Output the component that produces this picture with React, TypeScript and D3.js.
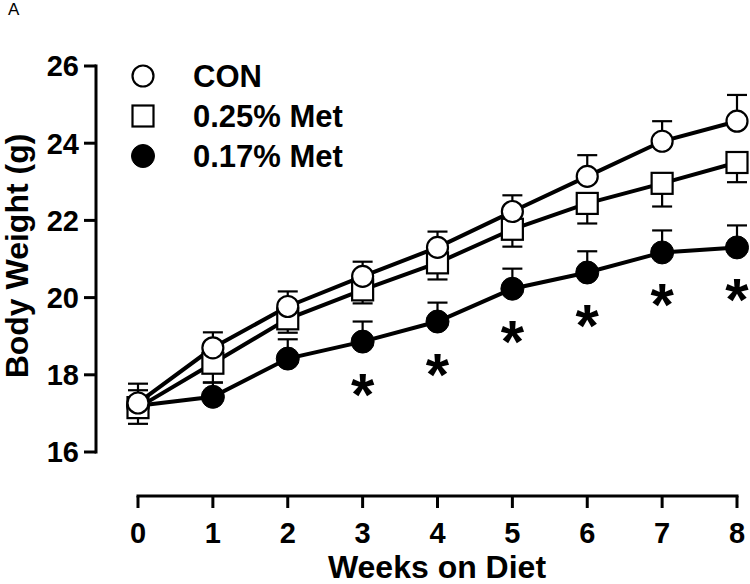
import React from "react";
import * as d3 from "d3";

const weeks = [0, 1, 2, 3, 4, 5, 6, 7, 8];
const conMean = [17.27, 18.7, 19.77, 20.55, 21.3, 22.23, 23.14, 24.05, 24.57];
const conSem = [0.5, 0.4, 0.39, 0.38, 0.41, 0.42, 0.55, 0.52, 0.68];
const met25Mean = [17.15, 18.3, 19.45, 20.2, 20.9, 21.77, 22.44, 22.96, 23.5];
const met25Sem = [0.42, 0.5, 0.36, 0.35, 0.43, 0.45, 0.52, 0.6, 0.51];
const met17Mean = [17.2, 17.43, 18.42, 18.86, 19.38, 20.23, 20.65, 21.17, 21.3];
const met17Sem = [0.4, 0.37, 0.5, 0.52, 0.49, 0.52, 0.55, 0.57, 0.57];
const starWeeks = [3, 4, 5, 6, 7, 8];
const yTicks = [16, 18, 20, 22, 24, 26];
const seriesNames = ["CON", "0.25% Met", "0.17% Met"];

const W = 750;
const H = 584;
const FONT = "'Liberation Sans', Arial, Helvetica, sans-serif";

export default function App() {
  const x = d3.scaleLinear().domain([0, 8]).range([138, 737]);
  const y = d3.scaleLinear().domain([16, 26]).range([452, 66]);

  const series = [
    { name: seriesNames[2], mean: met17Mean, sem: met17Sem, dir: 1, shape: "dot" },
    { name: seriesNames[1], mean: met25Mean, sem: met25Sem, dir: -1, shape: "square" },
    { name: seriesNames[0], mean: conMean, sem: conSem, dir: 1, shape: "circle" },
  ];

  const line = d3
    .line<number>()
    .x((_, i) => x(weeks[i]))
    .y((d) => y(d));

  const marker = (shape: string, cx: number, cy: number, key: string) => {
    if (shape === "circle")
      return <circle key={key} cx={cx} cy={cy} r={10.5} fill="#fff" stroke="#000" strokeWidth={2.2} />;
    if (shape === "square")
      return (
        <rect key={key} x={cx - 10.5} y={cy - 10.5} width={21} height={21} fill="#fff" stroke="#000" strokeWidth={2.2} />
      );
    return <circle key={key} cx={cx} cy={cy} r={11.5} fill="#000" stroke="#000" strokeWidth={1} />;
  };

  const legendRows = [
    { shape: "circle", label: seriesNames[0], cy: 76 },
    { shape: "square", label: seriesNames[1], cy: 116 },
    { shape: "dot", label: seriesNames[2], cy: 156 },
  ];

  return (
    <svg
      width={W}
      height={H}
      style={{ position: "absolute", left: 0, top: 0, background: "#fff" }}
      fontFamily={FONT}
    >
      <rect x={0} y={0} width={W} height={H} fill="#fff" />
      <text x={8} y={15} fontSize={17} fill="#000">A</text>

      {/* Y axis */}
      <line x1={96} x2={96} y1={y(26) - 1.5} y2={y(16) + 1.5} stroke="#000" strokeWidth={3} />
      {yTicks.map((t) => (
        <g key={t}>
          <line x1={84} x2={96} y1={y(t)} y2={y(t)} stroke="#000" strokeWidth={3} />
          <text x={79} y={y(t)} dy="0.36em" textAnchor="end" fontSize={29} fontWeight="bold">
            {t}
          </text>
        </g>
      ))}
      <text
        transform={`translate(28,${y(21) - 3}) rotate(-90)`}
        textAnchor="middle"
        fontSize={32}
        fontWeight="bold"
      >
        Body Weight (g)
      </text>

      {/* X axis */}
      <line x1={x(0) - 1.5} x2={x(8) + 1.5} y1={496} y2={496} stroke="#000" strokeWidth={3} />
      {weeks.map((w) => (
        <g key={w}>
          <line x1={x(w)} x2={x(w)} y1={496} y2={508} stroke="#000" strokeWidth={3} />
          <text x={x(w)} y={543} textAnchor="middle" fontSize={29} fontWeight="bold">
            {w}
          </text>
        </g>
      ))}
      <text x={437} y={578} textAnchor="middle" fontSize={32} fontWeight="bold">
        Weeks on Diet
      </text>

      {/* Lines */}
      {series.map((s) => (
        <path key={s.name} d={line(s.mean) || ""} fill="none" stroke="#000" strokeWidth={4} />
      ))}

      {/* Error bars and markers */}
      {series.map((s) => (
        <g key={s.name}>
          {s.mean.map((m, i) => {
            const cx = x(weeks[i]);
            const end = y(m + s.dir * s.sem[i]);
            return (
              <g key={i}>
                <line x1={cx} x2={cx} y1={y(m)} y2={end} stroke="#000" strokeWidth={2.2} />
                <line x1={cx - 10} x2={cx + 10} y1={end} y2={end} stroke="#000" strokeWidth={2.2} />
              </g>
            );
          })}
          {s.mean.map((m, i) => marker(s.shape, x(weeks[i]), y(m), s.name + i))}
        </g>
      ))}

      {/* Significance stars */}
      {starWeeks.map((w) => (
        <text key={w} x={x(w)} y={y(met17Mean[w]) + 73} textAnchor="middle" fontSize={60} fontWeight="bold">
          *
        </text>
      ))}

      {/* Legend */}
      {legendRows.map((r) => (
        <g key={r.label}>
          {marker(r.shape, 143, r.cy, "leg" + r.label)}
          <text x={193} y={r.cy + 11} fontSize={31} fontWeight="bold">
            {r.label}
          </text>
        </g>
      ))}
    </svg>
  );
}
